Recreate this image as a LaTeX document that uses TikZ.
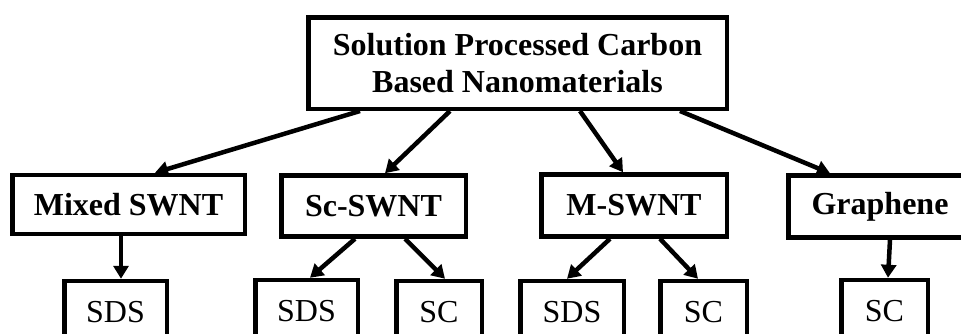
\documentclass[tikz,border=0pt]{standalone}
\usepackage{fontspec}
\setmainfont{Liberation Serif}
\usepackage{tikz}
\usetikzlibrary{arrows.meta}

\begin{document}
\begin{tikzpicture}[x=1pt, y=-1pt,
  box/.style={draw, line width=4.5pt, inner sep=0pt, align=center,
    font=\fontsize{32}{37}\selectfont\bfseries},
  leaf/.style={draw, line width=4.5pt, inner sep=0pt, minimum height=62pt,
    font=\fontsize{32}{37}\selectfont},
  link/.style={-{Triangle[length=13pt,width=15pt]}, line width=4.5pt}]
\useasboundingbox (0,0) rectangle (961,333);
\clip (0,0) rectangle (961,333);

\node[box, minimum width=418.5pt, minimum height=91.5pt] at (517.5,63) (top)
  {Solution Processed Carbon\\Based Nanomaterials};

\node[box, minimum width=232.5pt, minimum height=59pt] at (128.5,204.5) (mixed) {Mixed SWNT};
\node[box, minimum width=184.5pt, minimum height=61pt] at (373.5,206) (scswnt) {Sc-SWNT};
\node[box, minimum width=185.5pt, minimum height=62pt] at (634,205.5) (mswnt) {M-SWNT};
\node[box, minimum width=183pt, minimum height=62pt] at (880,206.5) (graph) {Graphene};

\node[leaf, minimum width=102.5pt] at (115.5,312) (sds1) {SDS};
\node[leaf, minimum width=102.5pt] at (306.5,311) (sds2) {SDS};
\node[leaf, minimum width=85.5pt] at (439,312) (sc2) {SC};
\node[leaf, minimum width=103.5pt] at (572,312) (sds3) {SDS};
\node[leaf, minimum width=86.5pt] at (703.5,312) (sc3) {SC};
\node[leaf, minimum width=86.5pt] at (884.5,311) (sc4) {SC};

\draw[link] ([xshift=-157.5pt]top.south) -- ([xshift=26.5pt]mixed.north);
\draw[link] ([xshift=-67.5pt]top.south) -- ([xshift=11.5pt]scswnt.north);
\draw[link] ([xshift=62.5pt]top.south) -- ([xshift=-11pt]mswnt.north);
\draw[link] ([xshift=162.5pt]top.south) -- ([xshift=-50pt]graph.north);

\draw[link] ([xshift=-7.5pt]mixed.south) -- ([xshift=5.5pt]sds1.north);
\draw[link] ([xshift=-18.5pt]scswnt.south) -- ([xshift=3.5pt]sds2.north);
\draw[link] ([xshift=31.5pt]scswnt.south) -- ([xshift=6pt]sc2.north);
\draw[link] ([xshift=-24pt]mswnt.south) -- ([xshift=-5pt]sds3.north);
\draw[link] ([xshift=26pt]mswnt.south) -- ([xshift=-5.5pt]sc3.north);
\draw[link] ([xshift=10pt]graph.south) -- ([xshift=3.5pt]sc4.north);

\end{tikzpicture}
\end{document}
